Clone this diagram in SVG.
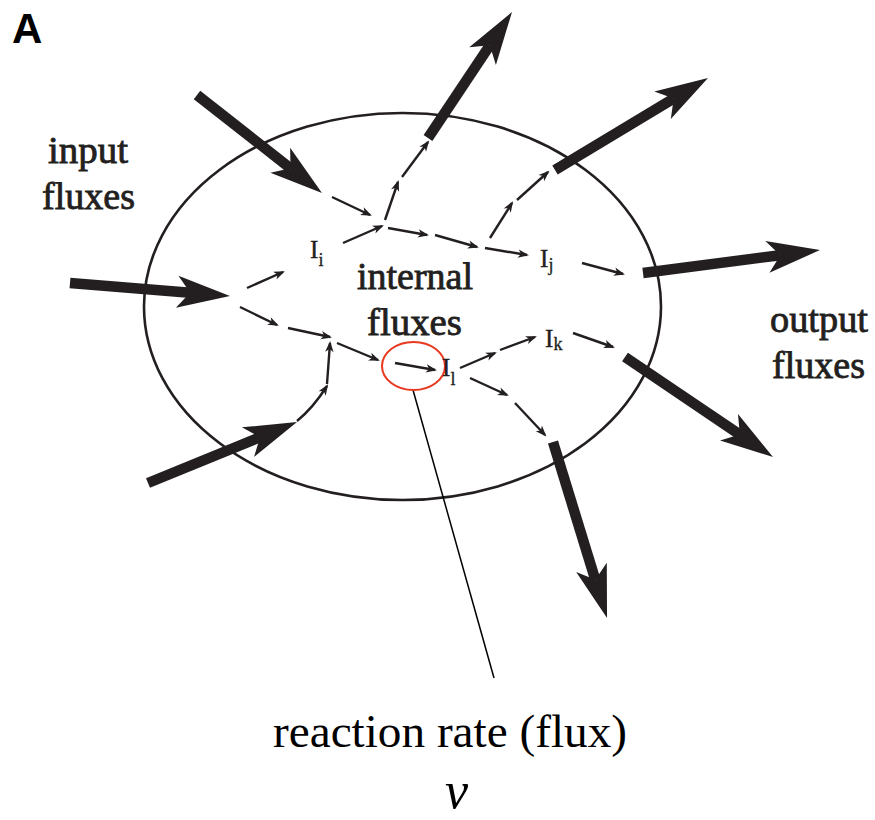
<svg xmlns="http://www.w3.org/2000/svg" width="875" height="820" viewBox="0 0 875 820">
<style>
.bg{fill:#ffffff}
.cell{fill:none;stroke:#231f20;stroke-width:2.6}
.thick{stroke:#231f20;stroke-width:10.5;fill:none;marker-end:url(#big)}
.thin{stroke:#231f20;stroke-width:2.4;fill:none;marker-end:url(#small)}
.lbl{font-family:"Liberation Serif","Times New Roman",serif;fill:#231f20;stroke:#231f20;stroke-width:0.8;font-size:37px}
.sym{font-family:"Liberation Serif","Times New Roman",serif;fill:#231f20;stroke:#231f20;stroke-width:0.4;font-size:25px}
.sub{font-family:"Liberation Serif","Times New Roman",serif;fill:#231f20;stroke:#231f20;stroke-width:0.3;font-size:18px}
.cap{font-family:"Liberation Serif","Times New Roman",serif;fill:#000;font-size:46px}
.var{font-family:"Liberation Serif","Times New Roman",serif;fill:#000;font-size:52px;font-style:italic}
</style>
<defs>
<marker id="big" markerUnits="userSpaceOnUse" orient="auto" refX="0" refY="0" markerWidth="60" markerHeight="40" viewBox="-15 -20 60 40" overflow="visible">
<path d="M40,0 L-13,-16 L0,0 L-13,16 Z" fill="#231f20"/>
</marker>
<marker id="small" markerUnits="userSpaceOnUse" orient="auto" refX="0" refY="0" markerWidth="16" markerHeight="12" viewBox="-10 -6 16 12" overflow="visible">
<path d="M2,0 L-9,-4.2 L-6,0 L-9,4.2 Z" fill="#231f20"/>
</marker>
</defs>
<rect class="bg" x="0" y="0" width="875" height="820"/>

<text x="12" y="43" font-family="Liberation Sans, Arial, sans-serif" font-weight="bold" font-size="42" fill="#000">A</text>

<g id="cell">
<ellipse class="cell" cx="402.5" cy="306.5" rx="258.5" ry="193.5"/>
</g>

<g id="connectors">
<!-- input fluxes -->
<line class="thick" x1="197" y1="95" x2="290.5" y2="168.3"/>
<line class="thick" x1="70" y1="283" x2="190.1" y2="292.8"/>
<line class="thick" x1="148" y1="483" x2="260" y2="437.2"/>
<!-- output fluxes -->
<line class="thick" x1="428" y1="138" x2="489.8" y2="45.3"/>
<line class="thick" x1="555" y1="170" x2="673.7" y2="98.6"/>
<line class="thick" x1="643" y1="273" x2="780.3" y2="255.2"/>
<line class="thick" x1="625" y1="357" x2="739.8" y2="434.6"/>
<line class="thick" x1="553" y1="442" x2="595.3" y2="579.8"/>
<!-- internal fluxes -->
<line class="thin" x1="332" y1="197" x2="370" y2="215"/>
<line class="thin" x1="343" y1="243" x2="382" y2="226"/>
<line class="thin" x1="385" y1="220" x2="398" y2="182"/>
<line class="thin" x1="402" y1="177" x2="428" y2="142"/>
<line class="thin" x1="388" y1="228" x2="427" y2="235"/>
<line class="thin" x1="435" y1="235" x2="477" y2="247"/>
<line class="thin" x1="485" y1="248" x2="527" y2="255"/>
<line class="thin" x1="490" y1="238" x2="512" y2="203"/>
<line class="thin" x1="517" y1="200" x2="548" y2="172"/>
<line class="thin" x1="582" y1="263" x2="623" y2="274"/>
<line class="thin" x1="247" y1="288" x2="283" y2="272"/>
<line class="thin" x1="240" y1="307" x2="277" y2="325"/>
<line class="thin" x1="288" y1="328" x2="330" y2="337"/>
<line class="thin" x1="337" y1="343" x2="378" y2="360"/>
<line class="thin" x1="395" y1="363" x2="435" y2="370"/>
<line class="thin" x1="460" y1="368" x2="495" y2="353"/>
<line class="thin" x1="500" y1="350" x2="535" y2="337"/>
<line class="thin" x1="573" y1="333" x2="613" y2="347"/>
<line class="thin" x1="470" y1="378" x2="507" y2="395"/>
<line class="thin" x1="515" y1="403" x2="545" y2="435"/>
<path class="thin" d="M297,421 Q313,408 327,386"/>
<line class="thin" x1="327" y1="384" x2="330" y2="343"/>
<!-- pointer line -->
<line x1="413" y1="390" x2="494" y2="678" stroke="#000" stroke-width="1.5"/>
</g>

<g id="highlight">
<ellipse cx="413.5" cy="366" rx="31.5" ry="24" fill="none" stroke="#e8381e" stroke-width="2"/>
</g>

<g id="node-Ii"><text class="sym" x="310" y="258">I</text><text class="sub" x="318.5" y="266">i</text></g>
<g id="node-Ij"><text class="sym" x="540" y="267">I</text><text class="sub" x="548.5" y="271">j</text></g>
<g id="node-Ik"><text class="sym" x="545" y="347">I</text><text class="sub" x="553.5" y="350">k</text></g>
<g id="node-Il"><text class="sym" x="442" y="376">I</text><text class="sub" x="450.5" y="385">l</text></g>

<g id="labels">
<text class="lbl" x="48" y="163" textLength="80" lengthAdjust="spacingAndGlyphs">input</text>
<text class="lbl" x="42" y="209" textLength="93" lengthAdjust="spacingAndGlyphs">fluxes</text>
<text class="lbl" x="357" y="289" textLength="116" lengthAdjust="spacingAndGlyphs">internal</text>
<text class="lbl" x="367" y="335" textLength="95" lengthAdjust="spacingAndGlyphs">fluxes</text>
<text class="lbl" x="770" y="332" textLength="98" lengthAdjust="spacingAndGlyphs">output</text>
<text class="lbl" x="772" y="378" textLength="93" lengthAdjust="spacingAndGlyphs">fluxes</text>
<text class="cap" x="273" y="747" textLength="354" lengthAdjust="spacingAndGlyphs">reaction rate (flux)</text>
<text class="var" x="445" y="808">v</text>
</g>
</svg>
